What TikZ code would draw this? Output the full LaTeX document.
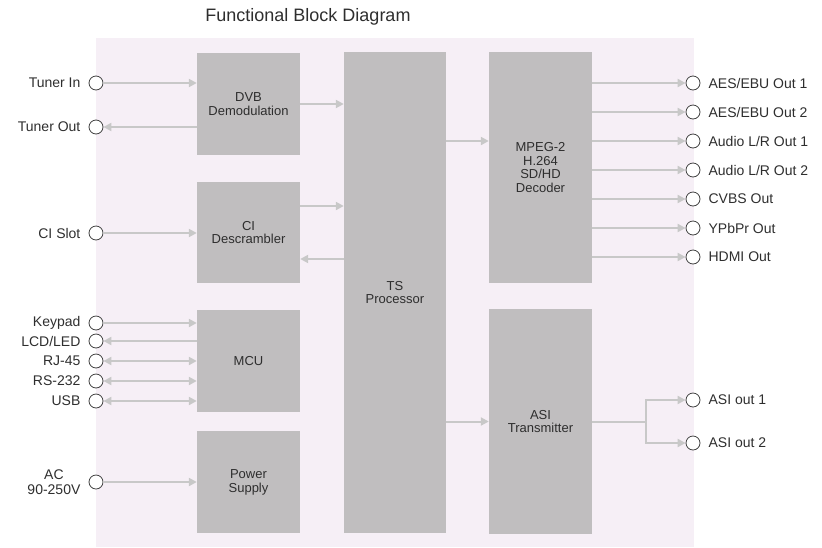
\documentclass[tikz,border=0pt]{standalone}
\usepackage{fontspec}
\setmainfont{Liberation Sans}
\usetikzlibrary{arrows.meta,positioning}

\definecolor{bgpink}{HTML}{F6EFF6}
\definecolor{blockgray}{HTML}{C0BEBF}
\definecolor{wiregray}{HTML}{C8C8C8}
\definecolor{txtgray}{HTML}{2E2E2E}

\tikzset{
  blk/.style={fill=blockgray, minimum width=103pt, inner sep=0pt, align=center,
    text=txtgray, font=\fontsize{13}{13.8}\selectfont},
  port/.style={circle, draw=black!75, fill=white, minimum size=14pt, inner sep=0pt, line width=0.8pt},
  lbl/.style={text=txtgray, inner sep=0pt, font=\fontsize{14}{15}\selectfont},
  wire/.style={draw=wiregray, line width=2pt, -{Triangle[length=8pt,width=8pt]}},
  wirebi/.style={draw=wiregray, line width=2pt, {Triangle[length=8pt,width=8pt]}-{Triangle[length=8pt,width=8pt]}},
}

\begin{document}
\begin{tikzpicture}[x=1pt,y=-1pt]
\useasboundingbox (0,0) rectangle (822,547);
\fill[bgpink] (96,38) rectangle (694,547);
\node[text=txtgray, font=\fontsize{18}{20}\selectfont] (title) at (308,17) {Functional Block Diagram};

% blocks
\node[blk, minimum height=102pt] (dvb) at (248.5,104) {DVB\\Demodulation};
\node[blk, minimum height=101pt] (ci) at (248.5,232.5) {CI\\Descrambler};
\node[blk, minimum height=102pt] (mcu) at (248.5,361) {MCU};
\node[blk, minimum height=102pt] (pwr) at (248.5,482) {Power\\Supply};
\node[blk, minimum height=481pt, minimum width=102pt] (ts) at (395,292.5) {TS\\Processor};
\node[blk, minimum height=231pt] (dec) at (540.5,167.5) {MPEG-2\\H.264\\SD/HD\\Decoder};
\node[blk, minimum height=225pt] (asi) at (540.5,421.5) {ASI\\Transmitter};

% input side
\node[port] (tin) at (96,83) {};
\node[port] (tout) at (96,127) {};
\node[port] (cislot) at (96,233) {};
\node[port] (kpd) at (96,323) {};
\node[port] (lcd) at (96,341) {};
\node[port] (rj) at (96,361) {};
\node[port] (rs) at (96,381) {};
\node[port] (usb) at (96,401) {};
\node[port] (ac) at (96,482) {};

\node[lbl, left=8pt of tin] (ltin) {Tuner In};
\node[lbl, left=8pt of tout] (ltout) {Tuner Out};
\node[lbl, left=8pt of cislot] (lcislot) {CI Slot};
\node[lbl, left=8pt of kpd] (lkpd) {Keypad};
\node[lbl, left=8pt of lcd] (llcd) {LCD/LED};
\node[lbl, left=8pt of rj] (lrj) {RJ-45};
\node[lbl, left=8pt of rs] (lrs) {RS-232};
\node[lbl, left=8pt of usb] (lusb) {USB};
\node[lbl, left=8pt of ac, align=center] (lac) {AC\\90-250V};

\draw[wire] (tin) -- (tin -| dvb.west);
\draw[wire] (tout -| dvb.west) -- (tout);
\draw[wire] (cislot) -- (cislot -| ci.west);
\draw[wire] (kpd) -- (kpd -| mcu.west);
\draw[wire] (lcd -| mcu.west) -- (lcd);
\draw[wirebi] (rj) -- (rj -| mcu.west);
\draw[wirebi] (rs) -- (rs -| mcu.west);
\draw[wirebi] (usb) -- (usb -| mcu.west);
\draw[wire] (ac) -- (ac -| pwr.west);

% into and out of the TS processor
\draw[wire] (dvb.east) -- (dvb.east -| ts.west);
\draw[wire] ([yshift=26.5pt]ci.east) -- ([yshift=26.5pt]ci.east -| ts.west);
\draw[wire] ([yshift=-26.5pt]ci.east -| ts.west) -- ([yshift=-26.5pt]ci.east);
\draw[wire] ([yshift=26.5pt]dec.west -| ts.east) -- ([yshift=26.5pt]dec.west);
\draw[wire] (asi.west -| ts.east) -- (asi.west);

% decoder outputs
\foreach \nm/\txt/\yy in {aes1/{AES/EBU Out 1}/83, aes2/{AES/EBU Out 2}/112,
    aud1/{Audio L/R Out 1}/141, aud2/{Audio L/R Out 2}/170, cvbs/{CVBS Out}/199,
    ypbpr/{YPbPr Out}/228, hdmi/{HDMI Out}/257}{
  \node[port] (\nm) at (693,\yy) {};
  \node[lbl, right=8pt of \nm] {\txt};
  \draw[wire] (\nm -| dec.east) -- (\nm);
}

% ASI outputs
\node[port] (asia) at (693,400) {};
\node[port] (asib) at (693,443) {};
\node[lbl, right=8pt of asia] (lasia) {ASI out 1};
\node[lbl, right=8pt of asib] (lasib) {ASI out 2};
\coordinate (split) at (646,421.5);
\draw[draw=wiregray, line width=2pt] (asi.east) -- (split);
\draw[wire] (split) |- (asia);
\draw[wire] (split) |- (asib);
\end{tikzpicture}
\end{document}
